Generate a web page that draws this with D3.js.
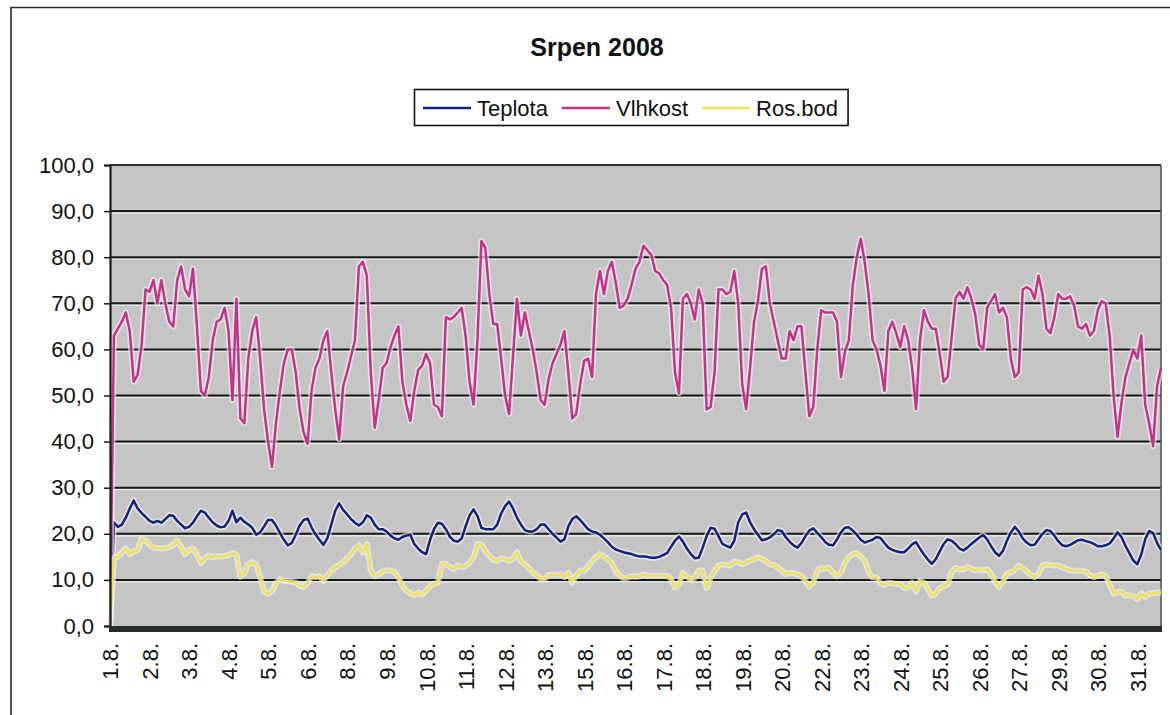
<!DOCTYPE html>
<html>
<head>
<meta charset="utf-8">
<title>Srpen 2008</title>
<script src="https://cdn.jsdelivr.net/npm/d3@7/dist/d3.min.js"></script>
<style>
  html, body { margin: 0; padding: 0; background: #ffffff; }
  svg { display: block; }
</style>
</head>
<body>
<svg id="chart" width="1170" height="715"></svg>
<script>
// Srpen 2008: teplota, vlhkost a rosný bod, deset odečtů na jeden popisek osy X.
const chartTitle = "Srpen 2008";
const seriesNames = ["Teplota", "Vlhkost", "Ros.bod"];
const dayLabels = ["1.8.", "2.8.", "3.8.", "4.8.", "5.8.", "6.8.", "8.8.", "9.8.", "10.8.",
  "11.8.", "12.8.", "13.8.", "15.8.", "16.8.", "17.8.", "18.8.", "19.8.", "20.8.", "22.8.",
  "23.8.", "24.8.", "25.8.", "26.8.", "27.8.", "29.8.", "30.8.", "31.8."];
const readingsPerLabel = 10;
const yTicks = [0, 10, 20, 30, 40, 50, 60, 70, 80, 90, 100];

// Teplota [°C]
const teplota = [
  0, 22.5, 21.5, 22, 23.5, 25.5, 27.2, 25.5, 24.5, 23.7,
  22.8, 22.4, 22.8, 22.4, 23.2, 24, 23.9, 22.8, 22, 21.2,
  21.5, 22.4, 23.8, 25, 24.6, 23.5, 22.5, 21.8, 21.4, 21.6,
  22.8, 25, 22.5, 23.5, 22.6, 22, 21.3, 19.8, 20.3, 21.6,
  23, 23, 21.8, 20.2, 18.7, 17.5, 18, 19.8, 21.8, 23,
  23.3, 21.4, 19.9, 18.7, 17.6, 19, 22, 25, 26.6, 25.2,
  24.2, 23.2, 22.4, 21.8, 22.5, 24, 23.5, 22, 21, 21,
  20.5, 19.6, 19, 18.7, 19.3, 19.6, 19.8, 17.8, 16.8, 16,
  15.6, 18.7, 21, 22.4, 22.2, 21, 19.4, 18.5, 18.3, 19,
  21.6, 24, 25.3, 23.9, 21.3, 21, 21, 21, 22, 24.4,
  26, 27, 25.5, 23.5, 22, 20.8, 20.5, 20.5, 21, 22,
  22, 21, 20, 19.2, 18.3, 18.8, 21.6, 23.2, 23.8, 23,
  22, 21, 20.5, 20.3, 19.8, 19, 18.2, 17.2, 16.6, 16.3,
  16, 15.8, 15.6, 15.3, 15.1, 15.1, 15, 14.8, 14.8, 15,
  15.4, 15.8, 17.2, 18.5, 19.4, 18.3, 16.8, 15.6, 14.7, 14.8,
  17, 19.5, 21.3, 21.1, 19.5, 17.8, 17.4, 17, 18.5, 22.5,
  24.2, 24.6, 22.5, 21, 19.8, 18.6, 18.8, 19.2, 19.9, 20.8,
  20.6, 19.3, 18.3, 17.5, 17, 18, 19.5, 20.7, 21.2, 20.2,
  19.3, 18.2, 17.6, 17.5, 18.8, 20.3, 21.3, 21.4, 20.7, 19.8,
  18.7, 18.1, 18.4, 18.7, 19.3, 19.1, 18, 17, 16.5, 16.2,
  16, 16, 16.8, 17.7, 18.2, 16.8, 15.5, 14.4, 13.5, 14.5,
  16.2, 17.8, 18.8, 18.5, 17.8, 16.8, 16.4, 17, 17.8, 18.5,
  19.2, 19.7, 18.8, 17.3, 16, 15.2, 16.3, 18.5, 20.3, 21.5,
  20.5, 19, 18.1, 17.5, 17.6, 18.8, 20, 20.8, 20.6, 19.6,
  18.4, 17.5, 17.3, 17.6, 18.1, 18.6, 18.7, 18.4, 18.2, 17.8,
  17.3, 17.3, 17.5, 17.9, 19, 20.3, 19.3, 17.4, 15.8, 14.2,
  13.4, 15.5, 18.8, 20.6, 20.2, 18, 16.5
];

// Relativní vlhkost [%]
const vlhkost = [
  0, 63, 64.5, 66, 68, 64, 53, 54.5, 61, 73,
  72.5, 75, 70, 75, 70, 66, 65, 75, 78, 73,
  71.5, 77.5, 65, 51, 50, 54, 62, 66, 66.5, 69,
  64, 49, 71, 45, 44, 58, 64, 67, 58, 47,
  40, 34.5, 44, 51, 57, 60, 60, 55, 47, 42,
  39.5, 51, 56, 58, 62, 64, 55, 47, 40.5, 52,
  55, 58.5, 62, 78, 79, 76, 55, 43, 49, 56,
  57, 60.5, 63, 65, 53, 48, 44.5, 51, 55.5, 56.5,
  59, 57, 48, 47.5, 45.5, 67, 66.5, 67, 68, 69,
  63, 53, 48, 62, 83.5, 82, 72, 65.5, 65.5, 58,
  50, 46, 58.5, 71, 63, 68, 64, 60, 55, 49,
  48, 53.5, 57, 59, 61, 64, 55, 45, 46, 52.5,
  57.5, 58, 54, 72, 77, 72, 77, 79, 74.5, 69,
  69.5, 71, 74, 77.5, 79, 82.5, 81.5, 80.5, 77, 76.5,
  75, 74, 69, 55, 50.5, 71, 72, 70, 66.5, 73,
  70, 47, 47.5, 55, 73, 73, 72, 72.5, 77, 70,
  52.5, 47, 56, 66, 70.5, 77.5, 78, 70, 66, 62,
  58, 58, 64, 62, 65, 65, 55, 45.5, 47.5, 60,
  68.5, 68, 68, 68, 66, 54, 59.5, 62, 74, 80,
  84, 79, 72, 62, 60, 56.5, 51, 64, 66, 63.5,
  60.5, 65, 62, 56, 47, 62, 68.5, 66, 64.5, 64.5,
  59, 53, 54, 62.5, 71, 72.5, 71, 73.5, 71, 67.5,
  61, 60, 69, 70.5, 72, 68, 69, 67, 58, 54,
  55, 73, 73.5, 73, 71, 76, 72, 64.5, 63.5, 67,
  72, 71, 71, 71.5, 69.5, 65, 64.5, 65.5, 63, 64,
  68.5, 70.5, 70, 63, 50, 41, 48.5, 54, 57, 60,
  58, 63, 48, 44, 39, 52, 56
];

// Rosný bod [°C]
const rosBod = [
  0, 14.8, 15, 16, 16.8, 15.6, 16.2, 16.5, 19, 18.4,
  17.6, 17, 17, 16.8, 16.9, 17.1, 17.6, 18.5, 17.3, 15.6,
  16.5, 16.8, 15.6, 13.6, 14.6, 15.3, 14.9, 15.2, 15, 15.2,
  15.4, 15.8, 15.5, 10.7, 11.5, 13.5, 13.8, 13.3, 10.5, 7.4,
  7, 7.6, 9.3, 10.2, 9.8, 9.7, 9.6, 9.4, 8.7, 8.5,
  9.3, 10.8, 10.6, 10.8, 9.8, 11, 12, 12.7, 13.2, 13.8,
  14.7, 15.6, 16.8, 17.5, 16, 17.8, 12, 10.8, 11.2, 11.8,
  12.1, 12, 11.8, 10.5, 8.8, 7.6, 7.1, 6.7, 7.3, 6.8,
  7.6, 8.7, 9.2, 9.4, 13.5, 13.5, 12.8, 12.4, 13.1, 12.8,
  13, 13.8, 14.9, 17.8, 17.7, 16.3, 15.2, 14.4, 14.1, 14.7,
  14.5, 14.1, 14.6, 16, 14, 13.4, 12.5, 11.6, 11, 10.2,
  10.2, 11, 11.1, 11, 11.2, 10.6, 11.6, 9.4, 11, 12,
  12, 12.8, 14, 15, 15.6, 15.1, 14.4, 13.7, 12, 10.9,
  10.3, 10.5, 10.8, 10.7, 10.8, 11.2, 10.9, 10.9, 10.9, 10.9,
  10.9, 10.9, 10.2, 8.4, 9, 11.5, 10.8, 9.9, 10.5, 12,
  12, 8.2, 10.5, 12, 13.1, 13.4, 13.2, 13.1, 14, 13.8,
  13.4, 13.8, 14.2, 14.5, 14.9, 14.6, 14.1, 13.4, 13.2, 12.7,
  12, 11.3, 11.5, 11.5, 11.2, 10.8, 9.8, 8.5, 9.5, 12,
  12.5, 12.5, 12.6, 11.6, 10.8, 11.5, 13.8, 15, 15.6, 15.8,
  15.1, 14.2, 11.6, 10.5, 10.5, 9.2, 9, 9.4, 9.3, 9.1,
  9.1, 8.2, 8.4, 9.4, 7.5, 9.8, 9.4, 8, 6.6, 7,
  8.2, 8.6, 9.1, 11.7, 12.6, 12.3, 12.3, 12.8, 12.4, 12.1,
  12.2, 12, 12.3, 11.2, 9.6, 8.5, 9.6, 11.3, 11.7, 12.2,
  13.1, 12.5, 11.9, 11.1, 10.6, 11.4, 13.1, 13.4, 13.2, 13.1,
  13.1, 12.7, 12.4, 12.1, 12, 12, 12, 11.7, 11, 10.6,
  10.9, 11.2, 10.8, 9, 7, 7.3, 7.5, 6.6, 6.6, 6.5,
  5.8, 7.1, 6.3, 7.1, 7.1, 7.2, 7.3
];

// ---- vzhled ----
const FONT = "'Liberation Sans', Arial, Helvetica, sans-serif";
const colors = { "Teplota": "#16227a", "Vlhkost": "#c4328b", "Ros.bod": "#eee15c" };
const series = [
  { name: seriesNames[0], values: teplota },
  { name: seriesNames[1], values: vlhkost },
  { name: seriesNames[2], values: rosBod }
];

const svg = d3.select("#chart");
const plot = { left: 110, right: 1161, top: 165, bottom: 626 };
const N = vlhkost.length;

const x = d3.scaleLinear().domain([0, N - 1]).range([plot.left, plot.right]);
const y = d3.scaleLinear().domain([0, 100]).range([plot.bottom, plot.top]);

// vnější rámeček grafu
svg.append("path")
  .attr("d", "M11,715 V7.5 H1170")
  .attr("fill", "none").attr("stroke", "#2a2a2a").attr("stroke-width", 1.6);

// nadpis
svg.append("text")
  .attr("x", 597).attr("y", 56)
  .attr("text-anchor", "middle")
  .attr("font-family", FONT).attr("font-size", 25).attr("font-weight", "bold")
  .attr("fill", "#111")
  .text(chartTitle);

// plocha grafu
svg.append("rect")
  .attr("x", plot.left).attr("y", plot.top)
  .attr("width", plot.right - plot.left).attr("height", plot.bottom - plot.top)
  .attr("fill", "#c4c5c4");

// vodorovné mřížky
const grid = svg.append("g");
grid.selectAll("line.hl")
  .data(yTicks.filter(d => d > 0 && d < 100))
  .join("line").attr("class", "hl")
  .attr("x1", plot.left).attr("x2", plot.right)
  .attr("y1", d => y(d) + 2).attr("y2", d => y(d) + 2)
  .attr("stroke", "#f2f4f2").attr("stroke-width", 1.2).attr("opacity", 0.8);
grid.selectAll("line.gl")
  .data(yTicks.filter(d => d > 0 && d < 100))
  .join("line").attr("class", "gl")
  .attr("x1", plot.left).attr("x2", plot.right)
  .attr("y1", d => y(d)).attr("y2", d => y(d))
  .attr("stroke", "#131a19").attr("stroke-width", 2);

// okraje plochy
svg.append("line")
  .attr("x1", plot.left).attr("x2", plot.right)
  .attr("y1", plot.top).attr("y2", plot.top)
  .attr("stroke", "#2b3230").attr("stroke-width", 2);
svg.append("line")
  .attr("x1", plot.right).attr("x2", plot.right)
  .attr("y1", plot.top).attr("y2", plot.bottom)
  .attr("stroke", "#4a504e").attr("stroke-width", 1.5);

// čáry řad
const line = d3.line().x((d, i) => x(i)).y(d => y(d));
const lines = svg.append("g");
series.forEach(s => {
  lines.append("path")
    .attr("d", line(s.values))
    .attr("fill", "none")
    .attr("stroke", "#f6f7f6").attr("stroke-opacity", 0.6)
    .attr("stroke-width", 6)
    .attr("stroke-linejoin", "round");
  lines.append("path")
    .attr("d", line(s.values))
    .attr("fill", "none")
    .attr("stroke", colors[s.name])
    .attr("stroke-width", 2.5)
    .attr("stroke-linejoin", "round");
});

// osa Y
const yAxis = svg.append("g")
  .attr("transform", `translate(${plot.left},0)`)
  .call(d3.axisLeft(y).tickValues(yTicks)
    .tickFormat(d => d.toFixed(1).replace(".", ","))
    .tickSize(6).tickPadding(10));
yAxis.select(".domain").attr("stroke", "#1c1c1c").attr("stroke-width", 2.2);
yAxis.selectAll(".tick line").attr("stroke", "#1c1c1c").attr("stroke-width", 1.5);
yAxis.selectAll(".tick text")
  .attr("font-family", FONT).attr("font-size", 22).attr("fill", "#111");

// osa X
svg.append("rect")
  .attr("x", plot.left - 1).attr("y", plot.bottom)
  .attr("width", plot.right - plot.left + 2).attr("height", 6)
  .attr("fill", "#262b29");

const xAxis = svg.append("g")
  .attr("transform", `translate(0,${plot.bottom})`)
  .call(d3.axisBottom(x)
    .tickValues(d3.range(0, N, readingsPerLabel))
    .tickFormat(i => dayLabels[i / readingsPerLabel])
    .tickSize(0));
xAxis.select(".domain").remove();
xAxis.selectAll(".tick text")
  .attr("transform", "rotate(-90)")
  .attr("text-anchor", "end")
  .attr("x", -17).attr("y", 0).attr("dy", "0.36em")
  .attr("font-family", FONT).attr("font-size", 22).attr("fill", "#111");

// legenda
const legend = svg.append("g");
const legendBox = legend.append("rect")
  .attr("x", 414.5).attr("y", 89.5).attr("height", 36)
  .attr("fill", "#ffffff").attr("stroke", "#111").attr("stroke-width", 1.6);
let cursor = 423;
series.forEach((s, k) => {
  legend.append("line")
    .attr("x1", cursor).attr("x2", cursor + 48)
    .attr("y1", 108).attr("y2", 108)
    .attr("stroke", colors[s.name]).attr("stroke-width", 2.5);
  const t = legend.append("text")
    .attr("x", cursor + 54).attr("y", 116)
    .attr("font-family", FONT).attr("font-size", 22).attr("fill", "#111")
    .text(s.name);
  cursor += 54 + t.node().getComputedTextLength() + 14;
});
legendBox.attr("width", cursor - 14 + 10 - 414.5);
</script>
</body>
</html>
